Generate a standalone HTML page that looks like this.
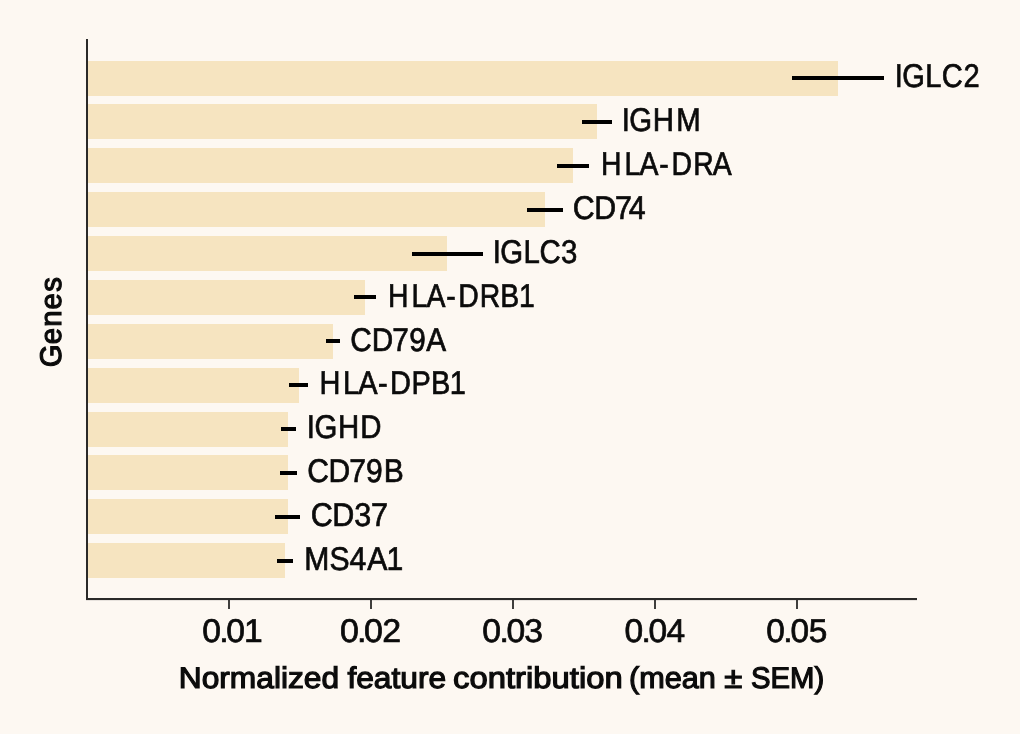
<!DOCTYPE html>
<html lang="en">
<head>
<meta charset="utf-8">
<title>Normalized feature contribution (mean ± SEM) by gene</title>
<style>
html,body{margin:0;padding:0;background:#fdf8f2;}
body{width:1020px;height:734px;overflow:hidden;}
svg{display:block;}
text{font-family:"Liberation Sans",sans-serif;fill:#0b0b0b;stroke:#0b0b0b;stroke-linejoin:miter;text-rendering:geometricPrecision;}
.lab,.tick{font-size:32.8px;stroke-width:0.7px;}
.axl{font-size:29.8px;font-weight:normal;stroke-width:1.2px;}
</style>
</head>
<body>
<svg width="1020" height="734" viewBox="0 0 1020 734">
<rect x="0" y="0" width="1020" height="734" fill="#fdf8f2"/>
<g fill="#f6e4c0">
<rect x="88" y="61" width="750" height="35"/>
<rect x="88" y="104" width="509" height="35"/>
<rect x="88" y="148" width="485" height="35"/>
<rect x="88" y="192" width="457" height="35"/>
<rect x="88" y="236" width="359" height="35"/>
<rect x="88" y="280" width="277" height="35"/>
<rect x="88" y="324" width="245" height="35"/>
<rect x="88" y="368" width="211" height="35"/>
<rect x="88" y="412" width="200" height="35"/>
<rect x="88" y="455" width="200" height="35"/>
<rect x="88" y="499" width="200" height="35"/>
<rect x="88" y="543" width="197" height="35"/>
</g>
<g stroke="#000" stroke-width="4">
<line x1="792" y1="78" x2="884" y2="78"/>
<line x1="582" y1="122" x2="612" y2="122"/>
<line x1="557" y1="166" x2="589" y2="166"/>
<line x1="527" y1="210" x2="563" y2="210"/>
<line x1="412" y1="254" x2="483" y2="254"/>
<line x1="354" y1="297" x2="376" y2="297"/>
<line x1="326" y1="341" x2="340" y2="341"/>
<line x1="289" y1="385" x2="308" y2="385"/>
<line x1="281" y1="429" x2="296" y2="429"/>
<line x1="280" y1="473" x2="297" y2="473"/>
<line x1="275" y1="517" x2="300" y2="517"/>
<line x1="277" y1="561" x2="293" y2="561"/>
</g>
<g class="lab">
<text transform="scale(0.8865 1)" x="1009.40 1017.78 1043.67 1062.42 1086.94" y="87.00">IGLC2</text>
<text transform="scale(0.8946 1)" x="695.01 703.48 729.69 756.03" y="131.00">IGHM</text>
<text transform="scale(0.8657 1)" x="694.22 721.30 738.80 761.60 775.80 800.95 823.24" y="175.00">HLA-DRA</text>
<text transform="scale(0.9246 1)" x="619.59 642.83 665.21 680.08" y="219.00">CD74</text>
<text transform="scale(0.8952 1)" x="550.37 558.69 584.75 602.68 626.75" y="263.00">IGLC3</text>
<text transform="scale(0.8655 1)" x="448.25 475.34 492.84 515.70 529.56 554.19 577.94 599.63" y="307.00">HLA-DRB1</text>
<text transform="scale(0.9067 1)" x="386.30 409.90 432.66 451.36 470.10" y="351.00">CD79A</text>
<text transform="scale(0.8832 1)" x="361.84 388.43 405.56 428.07 441.52 465.85 487.87 509.34" y="394.00">HLA-DPB1</text>
<text transform="scale(0.8952 1)" x="342.67 351.22 377.66 402.53" y="438.00">IGHD</text>
<text transform="scale(0.9149 1)" x="335.90 359.12 381.81 400.18 419.32" y="482.00">CD79B</text>
<text transform="scale(0.9302 1)" x="334.08 357.07 380.73 398.74" y="526.00">CD37</text>
<text transform="scale(0.9187 1)" x="331.16 358.55 380.52 399.70 420.61" y="570.00">MS4A1</text>
</g>
<g fill="#2b2a29"><rect x="86" y="39" width="2" height="561"/><rect x="86" y="598" width="831" height="2.1"/>
<rect x="228.10" y="600" width="1.8" height="9"/>
<rect x="370.10" y="600" width="1.8" height="9"/>
<rect x="512.10" y="600" width="1.8" height="9"/>
<rect x="654.10" y="600" width="1.8" height="9"/>
<rect x="796.10" y="600" width="1.8" height="9"/>
</g>
<g class="tick">
<text transform="scale(1.0255 1)" x="197.18 213.84 220.73 237.86" y="642.00">0.01</text>
<text transform="scale(1.0342 1)" x="328.68 345.23 352.03 369.73" y="642.00">0.02</text>
<text transform="scale(1.0273 1)" x="469.48 486.11 492.99 510.41" y="642.00">0.03</text>
<text transform="scale(1.0224 1)" x="610.76 627.45 634.38 652.03" y="642.00">0.04</text>
<text transform="scale(1.0186 1)" x="752.28 769.02 775.99 794.06" y="642.00">0.05</text>
</g>
<text class="axl" y="688"><tspan x="178.75" textLength="160.33" lengthAdjust="spacingAndGlyphs">Normalized</tspan> <tspan x="347.45" textLength="98.68" lengthAdjust="spacingAndGlyphs">feature</tspan> <tspan x="453.11" textLength="169.59" lengthAdjust="spacingAndGlyphs">contribution</tspan> <tspan x="629.02" textLength="86.90" lengthAdjust="spacingAndGlyphs">(mean</tspan> <tspan x="724.33" textLength="18.04" lengthAdjust="spacingAndGlyphs">±</tspan> <tspan x="750.98" textLength="73.25" lengthAdjust="spacingAndGlyphs">SEM)</tspan></text>
<text class="axl" transform="translate(61.20 0) rotate(-90) scale(0.9801 1)" x="-374.62 -351.22 -333.50 -315.87 -297.72" y="0">Genes</text>
</svg>
</body>
</html>
